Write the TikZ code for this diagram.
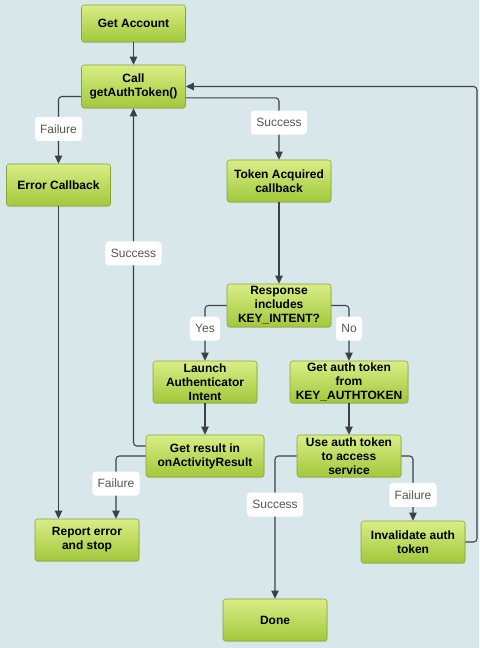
\documentclass[tikz,border=0pt]{standalone}
\usepackage{fontspec}
\setmainfont{Liberation Sans}
\usetikzlibrary{arrows.meta,shadows}
\definecolor{bgblue}{HTML}{D7E7EA}
\definecolor{boxtop}{HTML}{D9ED86}
\definecolor{boxbot}{HTML}{A2C83B}
\definecolor{boxline}{HTML}{8AA33C}
\definecolor{wire}{HTML}{3A4248}
\definecolor{lbltext}{HTML}{555555}
\tikzset{
  box/.style={draw=boxline, rounded corners=2pt, top color=boxtop, bottom color=boxbot,
    drop shadow={opacity=0.2, shadow xshift=0.4pt, shadow yshift=-0.8pt},
    minimum width=78pt, minimum height=31.5pt, align=center, inner sep=1pt,
    font=\fontsize{9}{10.5}\selectfont\bfseries},
  widebox/.style={box, minimum width=88.5pt},
  lbl/.style={fill=white, text=lbltext, inner xsep=4pt, minimum height=18pt,
    font=\fontsize{9}{10.5}\selectfont},
  wire/.style={draw=wire, line width=0.8pt, rounded corners=2.5pt,
    -{Triangle[width=5.5pt,length=6pt]}}
}
\begin{document}
\begin{tikzpicture}[x=0.75pt,y=-0.75pt]
  \fill[bgblue] (0,0) rectangle (479,648);
  \useasboundingbox (0,0) rectangle (479,648);
  \node[box, minimum height=27.75pt] (acct) at (133.5,23.5) {Get Account};
  \node[box, minimum height=32.25pt] (call) at (133.5,86.5) {Call\\getAuthToken()};
  \node[box] (err) at (58.5,185) {Error Callback};
  \node[box] (tok) at (279,181) {Token Acquired\\callback};
  \node[box, minimum height=32.25pt] (resp) at (279,305.5) {Response\\includes\\KEY\_INTENT?};
  \node[box] (launch) at (205,382) {Launch\\Authenticator\\Intent};
  \node[widebox] (gat) at (349,382) {Get auth token\\from\\KEY\_AUTHTOKEN};
  \node[widebox] (res) at (205,456) {Get result in\\onActivityResult};
  \node[box] (use) at (349,456) {Use auth token\\to access\\service};
  \node[box] (rep) at (87,540) {Report error\\and stop};
  \node[box] (inv) at (413,542) {Invalidate auth\\token};
  \node[box] (done) at (275,620) {Done};
  \coordinate (back) at (477,300);
  \begin{scope}
    \draw[wire] (acct) -- (call);
    \draw[wire] ([yshift=-7.5pt]call.west) -| node[lbl, pos=0.74] {Failure} (err.north);
    \draw[wire] ([yshift=-8.5pt]call.east) -| node[lbl, pos=0.7] {Success} (tok.north);
    \draw[wire] (tok) -- (resp);
    \draw[wire] (resp.west) -| node[lbl, pos=0.71] {Yes} (launch.north);
    \draw[wire] (resp.east) -| node[lbl, pos=0.71] {No} (gat.north);
    \draw[wire] (launch) -- (res);
    \draw[wire] (gat) -- (use);
    \draw[wire] ([yshift=7.5pt]res.west) -| node[lbl, pos=0.785] {Success} (call.south);
    \draw[wire] (res.west) -| node[lbl, pos=0.72] {Failure} ([xshift=21.75pt]rep.north);
    \draw[wire] (err.south) -- (err.south |- rep.north);
    \draw[wire] (use.west) -| node[lbl, pos=0.67] {Success} (done.north);
    \draw[wire] (use.east) -| node[lbl, pos=0.8] {Failure} (inv.north);
    \draw[wire] (inv.east) -| (back) |- (call.east);
  \end{scope}
\end{tikzpicture}
\end{document}
